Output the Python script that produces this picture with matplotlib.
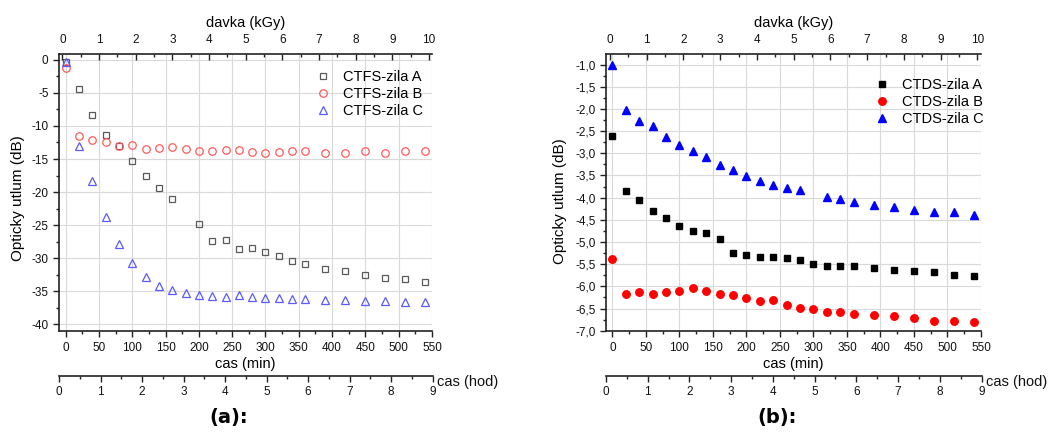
import matplotlib
matplotlib.use("Agg")
import matplotlib.pyplot as plt
from matplotlib.ticker import MultipleLocator, FuncFormatter

plt.rcParams['font.family'] = ['Liberation Sans', 'DejaVu Sans']

# ---- data -------------------------------------------------------------
# (a) CTFS cores
t_ctfs_a = [0, 20, 40, 60, 80, 100, 120, 140, 160, 200, 220, 240, 260, 280,
            300, 320, 340, 360, 390, 420, 450, 480, 510, 540]
ctfs_a = [-0.3, -4.43, -8.36, -11.33, -13.05, -15.37, -17.58, -19.45, -21.06,
          -24.79, -27.4, -27.25, -28.6, -28.46, -29.1, -29.7, -30.4, -30.9,
          -31.6, -31.9, -32.5, -33.0, -33.1, -33.7]
t_ctfs_b = [0, 20, 40, 60, 80, 100, 120, 140, 160, 180, 200, 220, 240, 260,
            280, 300, 320, 340, 360, 390, 420, 450, 480, 510, 540]
ctfs_b = [-1.26, -11.5, -12.1, -12.4, -13.05, -12.95, -13.5, -13.35, -13.2,
          -13.5, -13.8, -13.8, -13.7, -13.7, -13.9, -14.1, -13.95, -13.85,
          -13.85, -14.05, -14.15, -13.85, -14.15, -13.8, -13.85]
t_ctfs_c = t_ctfs_b
ctfs_c = [-0.35, -13.1, -18.3, -23.8, -27.9, -30.8, -32.8, -34.2, -34.85,
          -35.3, -35.6, -35.7, -35.86, -35.66, -35.97, -36.0, -36.07, -36.2,
          -36.2, -36.3, -36.3, -36.5, -36.5, -36.6, -36.6]

# (b) CTDS cores
t_ctds_a = [0, 20, 40, 60, 80, 100, 120, 140, 160, 180, 200, 220, 240, 260,
            280, 300, 320, 340, 360, 390, 420, 450, 480, 510, 540]
ctds_a = [-2.62, -3.85, -4.05, -4.31, -4.45, -4.63, -4.75, -4.80, -4.94,
          -5.24, -5.29, -5.33, -5.33, -5.36, -5.41, -5.49, -5.55, -5.54,
          -5.53, -5.58, -5.62, -5.65, -5.68, -5.75, -5.76]
t_ctds_b = t_ctds_a
ctds_b = [-5.39, -6.18, -6.12, -6.18, -6.12, -6.10, -6.03, -6.10, -6.17,
          -6.20, -6.27, -6.33, -6.31, -6.41, -6.49, -6.50, -6.57, -6.57,
          -6.62, -6.64, -6.66, -6.71, -6.78, -6.78, -6.80]
t_ctds_c = [0, 20, 40, 60, 80, 100, 120, 140, 160, 180, 200, 220, 240, 260,
            280, 320, 340, 360, 390, 420, 450, 480, 510, 540]
ctds_c = [-1.015, -2.02, -2.28, -2.39, -2.64, -2.82, -2.94, -3.08, -3.26,
          -3.38, -3.52, -3.63, -3.71, -3.78, -3.83, -3.99, -4.02, -4.09,
          -4.16, -4.20, -4.27, -4.33, -4.33, -4.39]

labels_ctfs = ['CTFS-zila A', 'CTFS-zila B', 'CTFS-zila C']
labels_ctds = ['CTDS-zila A', 'CTDS-zila B', 'CTDS-zila C']

# ---- figure -----------------------------------------------------------
W, H = 1051, 432
fig = plt.figure(figsize=(W / 100, H / 100), dpi=100)

SPINE = '#222222'
GRID = '#d9d9d9'
TICKFS = 8.5
XLABFS = 10.5
YLABFS = 11


def fx(px):
    return px / W


def fy(py):
    return 1 - py / H


def make_panel(x0, x1, xlim, ylim, dlim, ymajor, yminor, yfmt):
    top, bottom = 54, 330.7
    ax = fig.add_axes([fx(x0), fy(bottom), fx(x1 - x0), (bottom - top) / H])
    ax.set_xlim(*xlim)
    ax.set_ylim(*ylim)
    ax.xaxis.set_major_locator(MultipleLocator(50))
    ax.xaxis.set_minor_locator(MultipleLocator(25))
    ax.yaxis.set_major_locator(MultipleLocator(ymajor))
    ax.yaxis.set_minor_locator(MultipleLocator(yminor))
    ax.yaxis.set_major_formatter(FuncFormatter(yfmt))
    ax.grid(True, which='major', color=GRID, linewidth=0.8, zorder=0)
    ax.set_axisbelow(True)
    for s in ('top', 'right'):
        ax.spines[s].set_visible(False)
    for s in ('left', 'bottom'):
        ax.spines[s].set_color(SPINE)
        ax.spines[s].set_linewidth(1.2)
    ax.tick_params(which='both', direction='out', colors=SPINE,
                   labelcolor='#111111', labelsize=TICKFS, width=1.0)
    ax.tick_params(which='major', length=4)
    ax.tick_params(which='minor', length=2.2)
    ax.tick_params(axis='x', pad=4)
    ax.set_xlabel('cas (min)', fontsize=XLABFS, labelpad=2)
    ax.set_ylabel('Opticky utlum (dB)', fontsize=YLABFS)

    # dose axis on top
    tw = ax.twiny()
    tw.set_xlim(*dlim)
    tw.xaxis.set_major_locator(MultipleLocator(1))
    tw.xaxis.set_minor_locator(MultipleLocator(0.5))
    for s in ('left', 'right', 'bottom'):
        tw.spines[s].set_visible(False)
    tw.spines['top'].set_color(SPINE)
    tw.spines['top'].set_linewidth(1.2)
    tw.tick_params(which='both', direction='in', colors=SPINE,
                   labelcolor='#111111', labelsize=TICKFS, width=1.0)
    tw.tick_params(which='major', length=4, pad=6)
    tw.tick_params(which='minor', length=2.2)
    tw.set_xlabel('davka (kGy)', fontsize=XLABFS, labelpad=5)

    # time in hours, separate axis line below
    hy = 376
    hx = fig.add_axes([fx(x0), fy(hy), fx(x1 - x0 + 0.5), 0.0001])
    hx.patch.set_visible(False)
    hx.set_xlim(0, 9)
    hx.set_yticks([])
    hx.xaxis.set_major_locator(MultipleLocator(1))
    hx.xaxis.set_minor_locator(MultipleLocator(0.5))
    for s in ('left', 'right', 'top'):
        hx.spines[s].set_visible(False)
    hx.spines['bottom'].set_color(SPINE)
    hx.spines['bottom'].set_linewidth(1.2)
    hx.tick_params(which='both', direction='out', colors=SPINE,
                   labelcolor='#111111', labelsize=TICKFS, width=1.0)
    hx.tick_params(which='major', length=4, pad=3)
    hx.tick_params(which='minor', length=2.2)
    fig.text(fx(x1 + 5), fy(382), 'cas (hod)', fontsize=XLABFS,
             ha='left', va='center', color='#111111')
    return ax


def int_fmt(v, pos):
    return f'{v:.0f}'


def comma_fmt(v, pos):
    return f'{v:.1f}'.replace('.', ',')


# ---- (a) --------------------------------------------------------------
axa = make_panel(59, 432, (-10, 550), (-41, 0.9), (-0.095, 10.08), 5, 2.5, int_fmt)
axa.yaxis.set_label_coords(-0.09, 0.48)
ha1, = axa.plot(t_ctfs_a, ctfs_a, ls='none', marker='s', ms=5, mfc='none',
                mec='#5a5a5a', mew=0.9, label=labels_ctfs[0], zorder=3)
ha2, = axa.plot(t_ctfs_b, ctfs_b, ls='none', marker='o', ms=5.4, mfc='none',
                mec='#ff5a5a', mew=0.9, label=labels_ctfs[1], zorder=3)
ha3, = axa.plot(t_ctfs_c, ctfs_c, ls='none', marker='^', ms=5.8, mfc='none',
                mec='#5a5aff', mew=0.9, label=labels_ctfs[2], zorder=3)
axa.legend(handles=[ha1, ha2, ha3], loc='upper left', frameon=False,
           bbox_to_anchor=(fx(316), fy(70)), bbox_transform=fig.transFigure,
           fontsize=10.5, handlelength=1.0, handletextpad=0.85,
           labelspacing=0.2, borderpad=0, borderaxespad=0)

# ---- (b) --------------------------------------------------------------
axb = make_panel(606, 981, (-9.5, 550), (-7.0, -0.76), (-0.11, 10.1), 0.5, 0.25, comma_fmt)
axb.yaxis.set_label_coords(-0.104, 0.47)
hb1, = axb.plot(t_ctds_a, ctds_a, ls='none', marker='s', ms=4.8, mfc='black',
                mec='black', label=labels_ctds[0], zorder=3)
hb2, = axb.plot(t_ctds_b, ctds_b, ls='none', marker='o', ms=5.4, mfc='#ff0000',
                mec='#ff0000', label=labels_ctds[1], zorder=3)
hb3, = axb.plot(t_ctds_c, ctds_c, ls='none', marker='^', ms=6.2, mfc='#0000ff',
                mec='#0000ff', label=labels_ctds[2], zorder=3)
axb.legend(handles=[hb1, hb2, hb3], loc='upper left', frameon=False,
           bbox_to_anchor=(fx(875), fy(78)), bbox_transform=fig.transFigure,
           fontsize=10.5, handlelength=1.0, handletextpad=0.85,
           labelspacing=0.2, borderpad=0, borderaxespad=0)

# panel captions
fig.text(fx(229), fy(418), '(a):', fontsize=14, fontweight='bold',
         family='DejaVu Sans', ha='center', va='center')
fig.text(fx(777), fy(418), '(b):', fontsize=14, fontweight='bold',
         family='DejaVu Sans', ha='center', va='center')

fig.savefig('out.png', dpi=100)
